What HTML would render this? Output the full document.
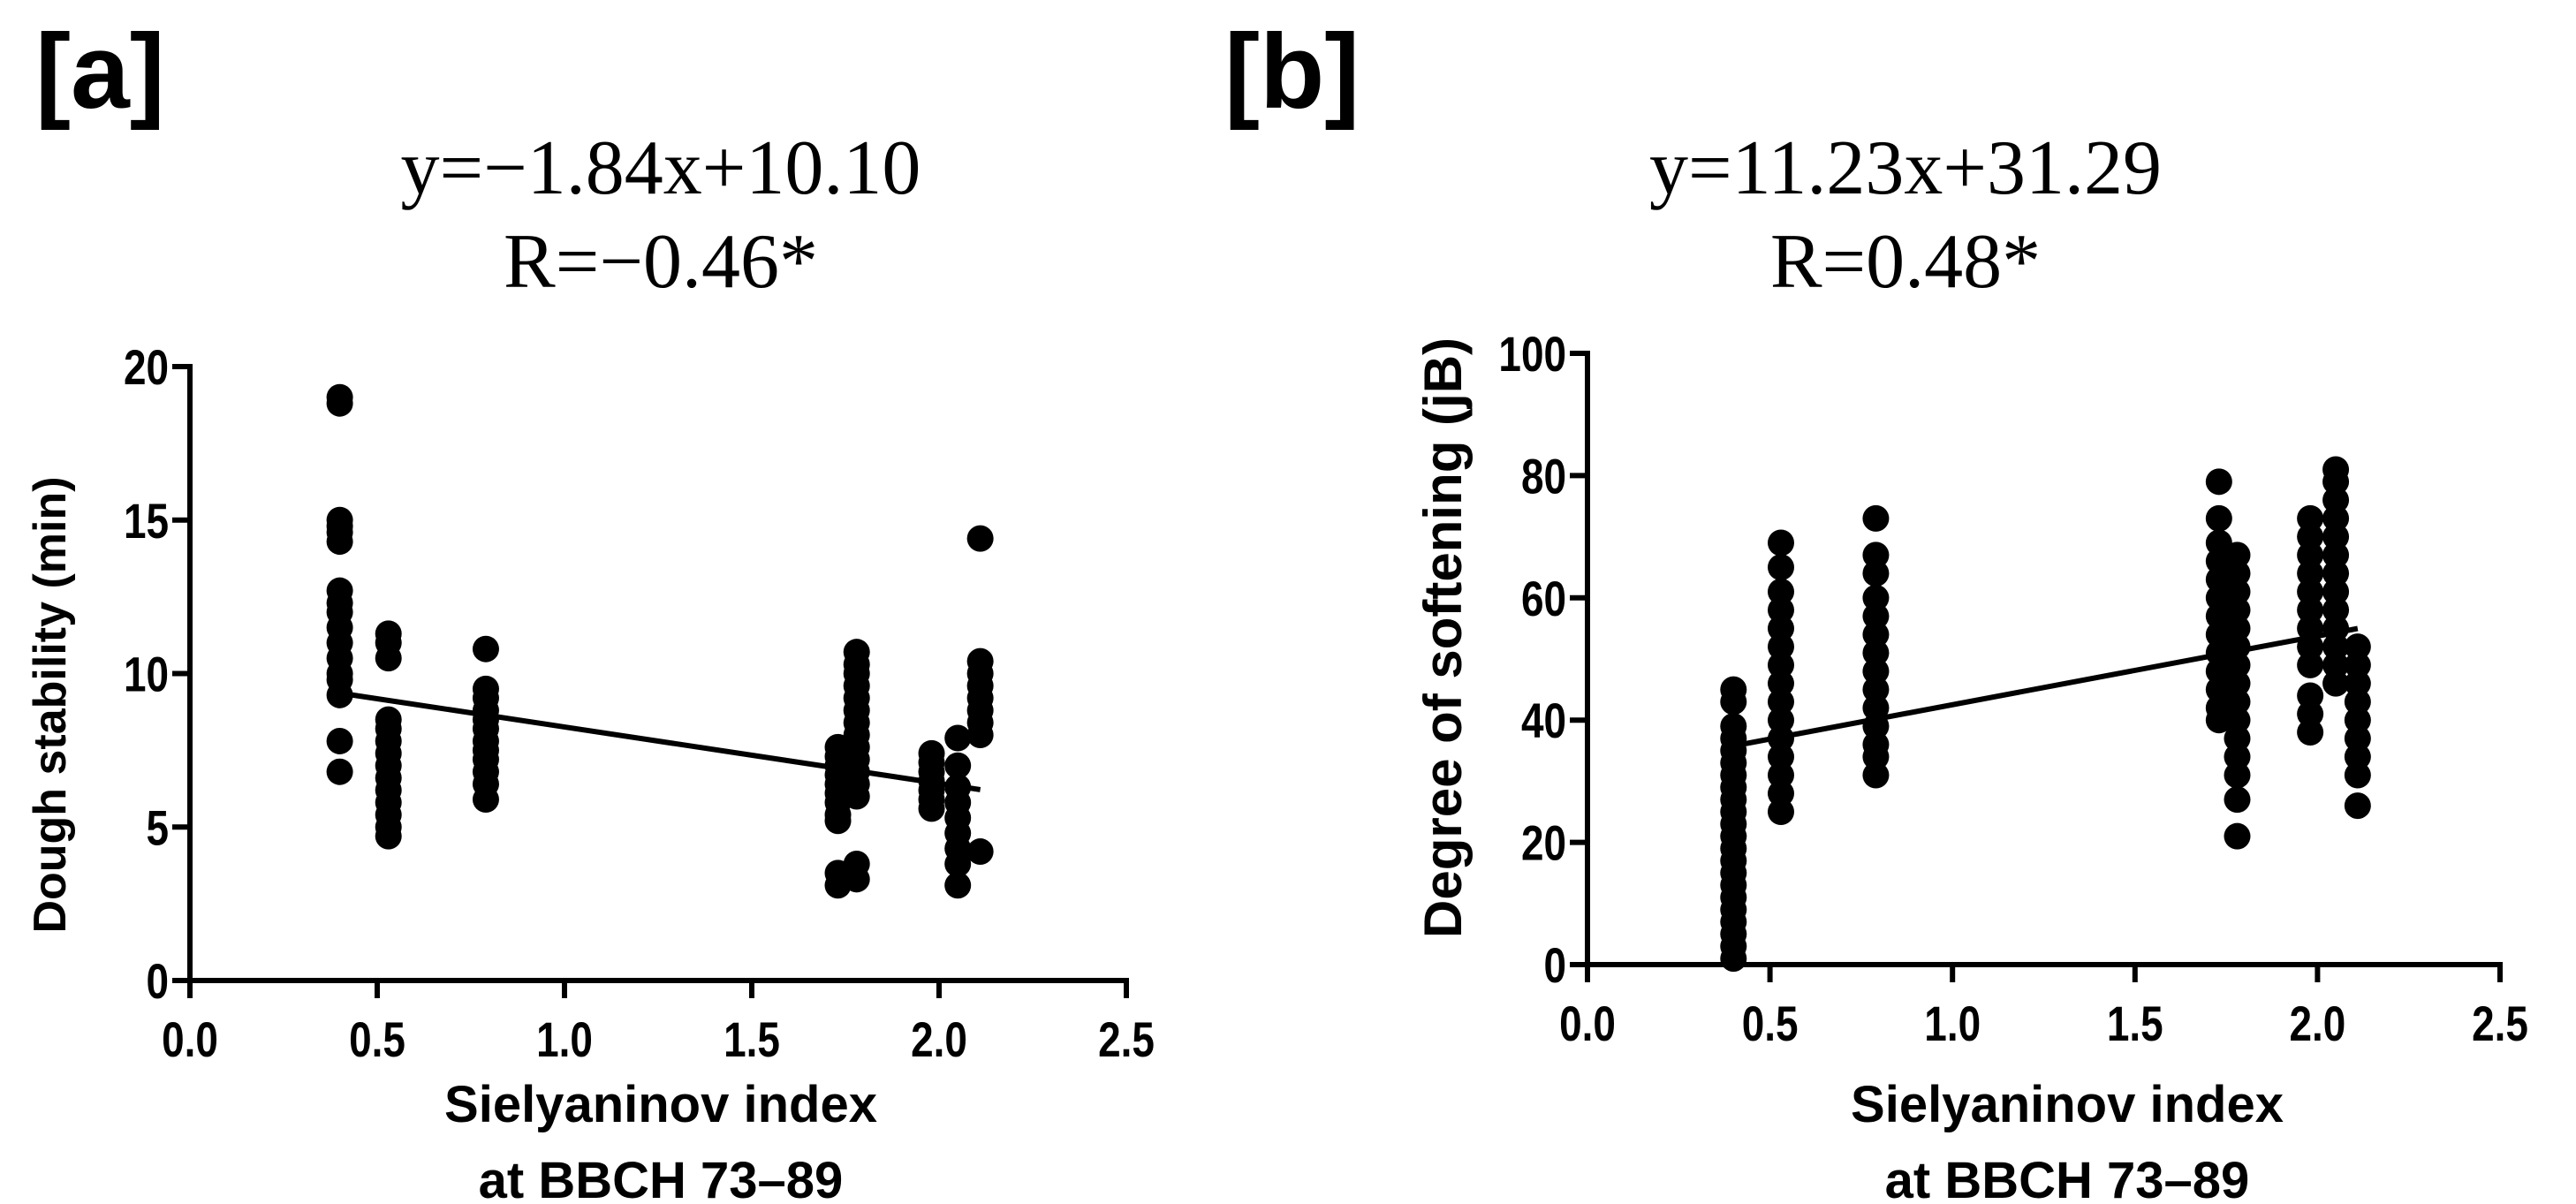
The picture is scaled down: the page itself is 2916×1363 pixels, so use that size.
<!DOCTYPE html>
<html><head><meta charset="utf-8"><style>
html,body{margin:0;padding:0;background:#fff;}
svg{display:block;}
.tk{font-family:"Liberation Sans",sans-serif;font-weight:bold;font-size:56px;fill:#000;}
.al{font-family:"Liberation Sans",sans-serif;font-weight:bold;font-size:58px;fill:#000;}
.tt{font-family:"Liberation Serif",serif;font-size:88px;fill:#000;}
.pl{font-family:"Liberation Sans",sans-serif;font-weight:bold;font-size:120px;fill:#000;}
</style></head><body>
<svg id="svg" width="2916" height="1363" viewBox="0 0 2916 1363" xmlns="http://www.w3.org/2000/svg">
<text class="pl" x="40" y="122">[a]</text>
<text class="pl" x="1386" y="122">[b]</text>
<text class="tt" x="748" y="219" text-anchor="middle">y=−1.84x+10.10</text>
<text class="tt" x="748" y="325" text-anchor="middle">R=−0.46*</text>
<text class="tt" x="2157" y="219" text-anchor="middle">y=11.23x+31.29</text>
<text class="tt" x="2157" y="325" text-anchor="middle">R=0.48*</text>
<text class="al" x="748" y="1270" text-anchor="middle">Sielyaninov index</text>
<text class="al" x="748" y="1356" text-anchor="middle">at BBCH 73–89</text>
<text class="al" x="2340" y="1270" text-anchor="middle">Sielyaninov index</text>
<text class="al" x="2340" y="1356" text-anchor="middle">at BBCH 73–89</text>
<text class="al" style="font-size:52px" transform="translate(74,798) rotate(-90)" text-anchor="middle">Dough stability (min)</text>
<text class="al" style="font-size:60px" transform="translate(1654,722) rotate(-90)" text-anchor="middle">Degree of softening (jB)</text>
<g id="ga"></g>
<g id="gb"></g>
</svg>
<script>
const xTicks=[0,0.5,1.0,1.5,2.0,2.5];
const yTicksA=[0,5,10,15,20];
const yTicksB=[0,20,40,60,80,100];
const groupsX=[0.40,0.53,0.79,1.73,1.78,1.98,2.05,2.11];
const valuesA=[
[19,18.8,15,14.8,14.6,14.3,12.7,12.3,12,11.5,11,10.5,10,9.8,9.3,7.8,6.8],
[11.3,11,10.5,8.5,8.2,7.8,7.4,7,6.6,6.2,5.8,5.4,5,4.7],
[10.8,9.5,9.2,8.8,8.5,8.2,7.8,7.5,7.2,6.8,6.4,5.9],
[7.6,7.3,7,6.7,6.4,6.1,5.8,5.4,5.2,3.5,3.1],
[10.7,10.3,10,9.6,9.2,8.8,8.4,8,7.6,7.2,6.8,6.4,6,3.8,3.3],
[7.4,7.1,6.8,6.5,6.2,5.9,5.6],
[7.9,7,6.3,5.8,5.3,4.8,4.3,3.8,3.1],
[14.4,10.4,10,9.6,9.2,8.8,8.4,8,4.2]];
const valuesB=[
[45,43,39,37,35,33,31,29,27,25,23,21,19,17,15,13,11,9,7,5,3,1],
[69,65,61,58,55,52,49,46,43,40,37,34,31,28,25],
[73,67,64,60,57,54,51,48,45,42,39,36,34,31],
[79,73,69,66,63,60,57,54,51,48,45,42,40],
[67,64,61,58,55,52,49,46,43,40,37,34,31,27,21],
[73,70,67,64,61,58,55,52,49,44,41,38],
[81,79,76,73,70,67,64,61,58,55,52,49,46],
[52,49,46,43,40,37,34,31,26]];
const fitA=[-1.84,10.10];
const fitB=[11.23,31.29];
const fitRange=[0.40,2.11];
const NS='http://www.w3.org/2000/svg';
function mk(tag,attrs,parent){const e=document.createElementNS(NS,tag);for(const k in attrs)e.setAttribute(k,attrs[k]);parent.appendChild(e);return e;}
function draw(g,cfg,yTicks,vals,fit,suffix){
  const sx=v=>cfg.x0+(v/2.5)*(cfg.x1-cfg.x0);
  const ymax=yTicks[yTicks.length-1];
  const sy=v=>cfg.y0-(v/ymax)*(cfg.y0-cfg.y1);
  let a=mk('line',{x1:sx(0),y1:cfg.y1-3,x2:sx(0),y2:cfg.y0+3,stroke:'#000','stroke-width':6},g);
  
  
  a=mk('line',{x1:sx(0)-3,y1:cfg.y0,x2:sx(2.5)+3,y2:cfg.y0,stroke:'#000','stroke-width':6},g);
  
  
  xTicks.forEach(t=>{
    const l=mk('line',{x1:sx(t),y1:cfg.y0,x2:sx(t),y2:cfg.y0+20,stroke:'#000','stroke-width':6},g);
    
    
    const tx=mk('text',{transform:'translate('+sx(t)+','+(cfg.y0+86)+') scale(0.82,1)','text-anchor':'middle',class:'tk'},g);
    tx.textContent=t.toFixed(1);
    
    
  });
  yTicks.forEach(t=>{
    const l=mk('line',{x1:sx(0)-20,y1:sy(t),x2:sx(0),y2:sy(t),stroke:'#000','stroke-width':6},g);
    
    
    const tx=mk('text',{transform:'translate('+(sx(0)-24)+','+(sy(t)+20)+') scale(0.82,1)','text-anchor':'end',class:'tk'},g);
    tx.textContent=String(t);
    
    
  });
  groupsX.forEach((gx,i)=>{vals[i].forEach(v=>{
    const c=mk('circle',{cx:sx(gx),cy:sy(v),r:15,fill:'#000'},g);
    
    
  });});
  const f=mk('line',{x1:sx(fitRange[0]),y1:sy(fit[0]*fitRange[0]+fit[1]),x2:sx(fitRange[1]),y2:sy(fit[0]*fitRange[1]+fit[1]),stroke:'#000','stroke-width':6},g);
  
  
}
draw(document.getElementById('ga'),{x0:215,x1:1275,y0:1110,y1:415},yTicksA,valuesA,fitA,'a');
draw(document.getElementById('gb'),{x0:1797,x1:2830,y0:1092,y1:400},yTicksB,valuesB,fitB,'b');
</script>
</body></html>
